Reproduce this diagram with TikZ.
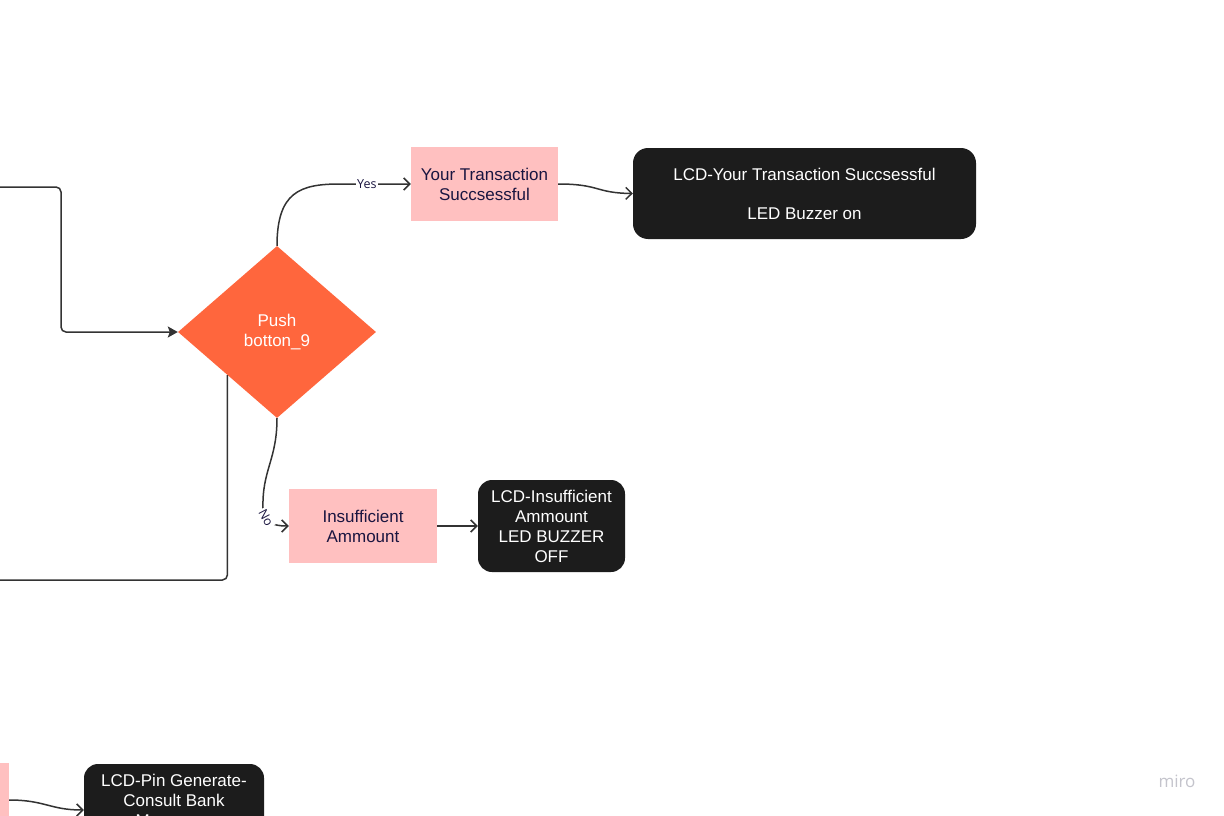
\documentclass[tikz,border=0pt]{standalone}
\usepackage{fontspec}
\setmainfont{Liberation Sans}
\newfontfamily\labfont{Open Sans}
\usetikzlibrary{shapes.geometric,arrows.meta}
\definecolor{orangeD}{HTML}{FF663D}
\definecolor{pinkF}{HTML}{FFC0C0}
\definecolor{blackF}{HTML}{1C1C1C}
\definecolor{navyT}{HTML}{1A1540}
\definecolor{lineC}{HTML}{333333}
\definecolor{logoC}{HTML}{C4C4CC}
\tikzset{
  txt/.style={font=\fontsize{17}{20}\selectfont},
  pinkbox/.style={txt, fill=pinkF, text=navyT, minimum width=147pt, minimum height=74pt, inner sep=0pt, align=center},
  blackbox/.style={txt, fill=blackF, text=white, rounded corners=15pt, inner sep=0pt, align=center},
  conn/.style={draw=lineC, line width=1.5pt},
  openarrow/.style={conn, -{Straight Barb[length=6pt,width=12pt]}},
  lab/.style={font=\labfont\fontsize{12.5}{14}\selectfont, text=navyT, fill=white, inner sep=1.5pt},
}
\begin{document}
\begin{tikzpicture}[x=1pt,y=-1pt]
\useasboundingbox (0,0) rectangle (1224,816);
\fill[white] (0,0) rectangle (1224,816);
\clip (0,0) rectangle (1224,816);

% nodes
\node[diamond, fill=orangeD, minimum width=198pt, minimum height=172pt, inner sep=0pt, text=white, align=center, txt] (d) at (277,332) {Push\\botton\_9};
\node[pinkbox] (pA) at (484.5,184) {Your Transaction\\Succsessful};
\node[blackbox, minimum width=343pt, minimum height=91pt] (bA) at (804.5,193.5) {LCD-Your Transaction Succsessful\\[19pt]LED Buzzer on};
\node[pinkbox, minimum width=148pt] (pB) at (363,526) {Insufficient\\Ammount};
\node[blackbox, minimum width=147pt, minimum height=92pt, rounded corners=14pt] (bB) at (551.5,526) {LCD-Insufficient\\Ammount\\LED BUZZER\\OFF};
\node[pinkbox, minimum width=148pt] (pC) at (-65,800) {};
\node[blackbox, minimum width=180pt, minimum height=92pt, rounded corners=14pt] (bC) at (174,810) {LCD-Pin Generate-\\Consult Bank\\Mannager\\\mbox{}};
\node[font=\labfont\fontsize{17}{20}\selectfont, text=logoC] (logo) at (1177,781) {miro};

\coordinate (inA) at (0,187);
\coordinate (outA) at (0,580);

% connectors
\draw[conn, rounded corners=5pt, -{Stealth[length=10pt,width=11pt,inset=2pt]}] (inA) -- ++(61,0) |- (d.west);
\draw[conn, rounded corners=5pt] (d.south west) |- (outA);
\draw[openarrow] (d.north) .. controls (277,192) and (300,184) .. (340,184) -- node[lab, pos=0.38] (yes) {Yes} (pA.west);
\draw[openarrow] (pA.east) .. controls (600,184) and (595,193) .. (bA.west);
\draw[openarrow] (d.south) .. controls (277,460) and (262,470) .. (263,508) .. controls (264,522) and (272,526) .. (pB.west);
\node[lab, rotate=-62] (no) at (266,518) {No};
\draw[openarrow] (pB.east) -- (bB.west);
\draw[openarrow] (pC.east) .. controls (45,800) and (50,810) .. (bC.west);
\end{tikzpicture}
\end{document}
